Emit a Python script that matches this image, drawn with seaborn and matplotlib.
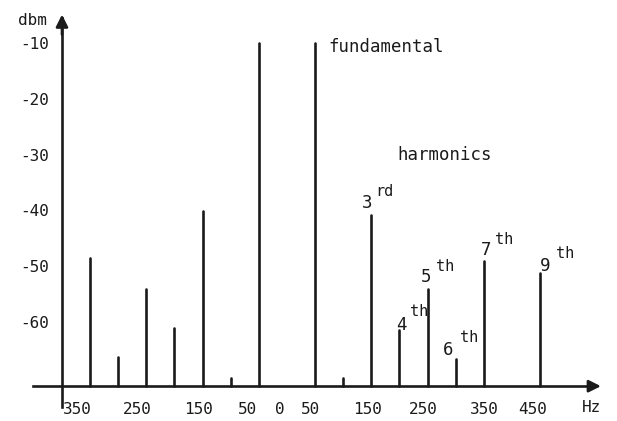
import matplotlib
matplotlib.use("Agg")
import matplotlib.pyplot as plt
import seaborn as sns
import pandas as pd

# ---- data ----
freqs = [-350, -300, -250, -200, -150, -100, -50, 50, 100, 150, 200, 250, 300, 350, 450]
levels = [-48.5, -66.3, -54.1, -61.1, -40.1, -70.0, -10.0, -10.0, -70.0, -40.8, -61.4, -54.1, -66.6, -49.1, -51.2]
floor_db = -71.5

ytick_vals = [-10, -20, -30, -40, -50, -60]
ytick_labels = ["-10", "-20", "-30", "-40", "-50", "-60"]
xtick_labels = ["350", "250", "150", "50", "0", "50", "150", "250", "350", "450"]
xtick_pos = [-372, -266, -157, -70, -12, 41, 143, 243, 350, 436]

harm_nums = ["3", "4", "5", "6", "7", "9"]
harm_sups = ["rd", "th", "th", "th", "th", "th"]
num_pos = [(142, -38.7), (203, -60.5), (247, -51.9), (286, -65.0), (354, -47.1), (459, -50.0)]
sup_pos = [(174, -36.6), (235, -58.2), (281, -50.0), (324, -62.7), (386, -45.3), (494, -47.8)]

# ---- style ----
sns.set_style("white")
plt.rcParams["font.family"] = ["DejaVu Sans Mono", "DejaVu Sans"]
ink = "#1a1a1a"

rows = []
for i, (f, v) in enumerate(zip(freqs, levels)):
    rows.append({"stem": i, "freq": f, "db": floor_db})
    rows.append({"stem": i, "freq": f, "db": v})
df = pd.DataFrame(rows)

fig = plt.figure(figsize=(6.17, 4.21), dpi=100)
ax = fig.add_axes([0, 0, 1, 1])
ax.set_facecolor("white")

sns.lineplot(data=df, x="freq", y="db", units="stem", estimator=None,
             color=ink, linewidth=1.9, sort=False, legend=False, ax=ax)

ax.set_xlim(-510.2, 586.7)
ax.set_ylim(-77.74, -2.29)
ax.set_xlabel("")
ax.set_ylabel("")

# axes drawn as lines through the chart
for s in ["top", "right"]:
    ax.spines[s].set_visible(False)
ax.spines["left"].set_position(("data", -400))
ax.spines["left"].set_bounds(-75.2, -5.5)
ax.spines["bottom"].set_position(("data", floor_db))
ax.spines["bottom"].set_bounds(-452, 548)
for s in ["left", "bottom"]:
    ax.spines[s].set_linewidth(1.9)
    ax.spines[s].set_color(ink)

ax.annotate("", xy=(-400, -4.4), xytext=(-400, -9.0),
            arrowprops=dict(arrowstyle="-|>", color=ink, lw=1.9, mutation_scale=18),
            annotation_clip=False)
ax.annotate("", xy=(563, floor_db), xytext=(530, floor_db),
            arrowprops=dict(arrowstyle="-|>", color=ink, lw=1.9, mutation_scale=18),
            annotation_clip=False)

ax.set_yticks(ytick_vals, ytick_labels)
ax.set_xticks(xtick_pos, xtick_labels)
ax.tick_params(axis="y", length=0, pad=9.5, labelsize=11.5, labelcolor=ink)
ax.tick_params(axis="x", length=0, pad=11.5, labelsize=11.5, labelcolor=ink)

ax.text(-453, -5.9, "dbm", ha="center", va="center", fontsize=11.5, color=ink)
ax.text(542, -75.4, "Hz", ha="center", va="center", fontsize=11.5, color=ink)
ax.text(73, -10.7, "fundamental", ha="left", va="center", fontsize=12.5, color=ink)
ax.text(197, -30.1, "harmonics", ha="left", va="center", fontsize=12.5, color=ink)

for n, s, (nx, ny), (sx, sy) in zip(harm_nums, harm_sups, num_pos, sup_pos):
    ax.text(nx, ny, n, ha="center", va="center", fontsize=12.5, color=ink)
    ax.text(sx, sy, s, ha="center", va="center", fontsize=11, color=ink)

fig.savefig("out.png", dpi=100, facecolor="white")
